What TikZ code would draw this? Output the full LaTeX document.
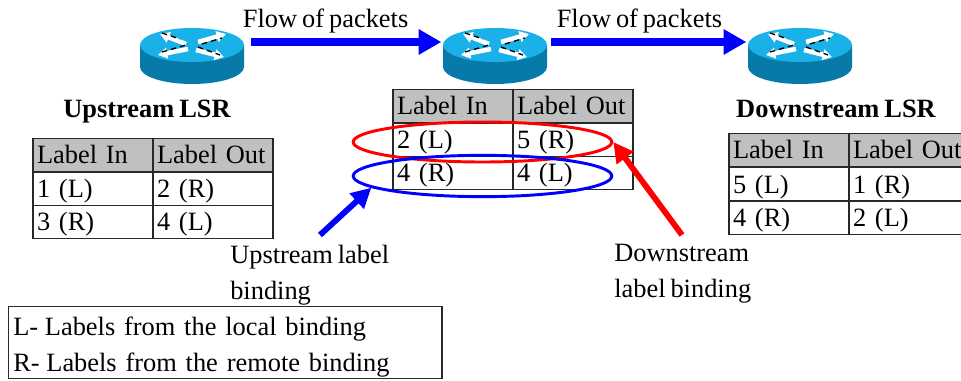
\documentclass[tikz,border=0pt]{standalone}
\usepackage{fontspec}
\setmainfont[WordSpace=0.75]{Liberation Serif}
\usetikzlibrary{arrows.meta,shapes.geometric}
\definecolor{routertop}{RGB}{26,176,232}
\definecolor{routerside}{RGB}{8,122,170}
\definecolor{headgrey}{RGB}{192,192,192}
\definecolor{gridline}{RGB}{40,40,40}
\tikzset{
  routerpic/.pic={
    \fill[routerside] (-52,0) -- (-52,22) arc[start angle=180,end angle=0,x radius=52,y radius=17] -- (52,0) -- cycle;
    \fill[routertop] (0,0) ellipse (52 and 17);
    \draw[white,line width=3.4pt,-{Triangle[length=7pt,width=8pt]}] (-6,-1) -- (-32,-11);
    \draw[white,line width=3.4pt,-{Triangle[length=7pt,width=8pt]}] (6,-3) -- (34,-11);
    \draw[white,line width=3.4pt,-{Triangle[length=7pt,width=8pt]}] (-4,4) -- (-34,10);
    \draw[white,line width=3.4pt,-{Triangle[length=7pt,width=8pt]}] (4,5) -- (32,12);
    \draw[black,line width=1pt,dash pattern=on 4pt off 3pt] (-30,-12) -- (-12,-6) (10,-1) -- (30,-7) (-30,7) -- (-6,0) (6,2) -- (28,10);
  },
  routernode/.style={minimum width=78pt,minimum height=21pt,inner sep=0pt},
  txt/.style={text=black,font=\fontsize{19.8}{27}\selectfont,inner sep=0pt},
  lsrname/.style={txt,anchor=base,font=\fontsize{19.8}{27}\selectfont\bfseries},
  cell/.style={draw=gridline,line width=1pt,minimum width=90pt,minimum height=25pt,inner sep=0pt,inner xsep=3pt,text width=84pt,text height=13pt,text depth=0pt,align=left,font=\fontsize{19.8}{27}\selectfont},
  headcell/.style={cell,fill=headgrey},
  flow/.style={blue,line width=5.6pt,-{Triangle[length=17pt,width=18pt]}},
  pointer/.style={line width=4.4pt,-{Triangle[length=15pt,width=15pt]}},
  oval/.style={draw,ellipse,line width=2.2pt,inner sep=0pt,minimum width=194pt},
}
\begin{document}
\begin{tikzpicture}[x=0.75pt,y=-0.75pt]
  \clip (0,0) rectangle (961,381);
  % routers
  \pic at (192,45) {routerpic};
  \pic at (495,45) {routerpic};
  \pic at (800,45) {routerpic};
  \node[routernode] (upr) at (192,42) {};
  \node[routernode] (midr) at (495,42) {};
  \node[routernode] (downr) at (800,42) {};
  \draw[flow,shorten <=5pt,shorten >=1pt] (upr) -- node[txt,above=4pt,pos=.41] (flowa) {Flow of packets} (midr);
  \draw[flow,shorten <=3pt,shorten >=1pt] (midr) -- node[txt,above=4pt,pos=.46] (flowb) {Flow of packets} (downr);
  \node[lsrname] (upname) at (147,118) {Upstream LSR};
  \node[lsrname] (downname) at (836,118) {Downstream LSR};
  % upstream table
  \node[headcell] (ua) at (93,155) {Label In};
  \node[headcell] (ub) at (213,155) {Label Out};
  \node[cell] (uc) at (93,189) {1 (L)};
  \node[cell] (ud) at (213,189) {2 (R)};
  \node[cell] (ue) at (93,222) {3 (R)};
  \node[cell] (uf) at (213,222) {4 (L)};
  % middle table
  \node[headcell] (ma) at (453,106) {Label In};
  \node[headcell] (mb) at (573,106) {Label Out};
  \node[cell] (mc) at (453,140) {2 (L)};
  \node[cell] (md) at (573,140) {5 (R)};
  \node[cell] (me) at (453,173) {4 (R)};
  \node[cell] (mf) at (573,173) {4 (L)};
  % downstream table
  \node[headcell] (da) at (789,150) {Label In};
  \node[headcell] (db) at (909,150) {Label Out};
  \node[cell] (dc) at (789,184.5) {5 (L)};
  \node[cell] (dd) at (909,184.5) {1 (R)};
  \node[cell] (de) at (789,218) {4 (R)};
  \node[cell] (df) at (909,218) {2 (L)};
  % bindings
  \node[oval,draw=red,minimum height=30pt] (redoval) at (482.5,142) {};
  \node[oval,draw=blue,minimum height=31pt] (blueoval) at (482.5,176) {};
  \coordinate (uptail) at (320,235);
  \coordinate (downtail) at (682,235);
  \draw[pointer,blue] (uptail) -- (blueoval.186);
  \draw[pointer,red] (downtail) -- (redoval.0);
  \node[txt,anchor=north west,align=left] (uplabel) at (230,245) {Upstream label\\binding};
  \node[txt,anchor=north west,align=left] (downlabel) at (614,244) {Downstream\\label binding};
  % legend
  \node[draw=gridline,line width=1pt,anchor=north west,minimum width=325pt,minimum height=54pt,inner sep=0pt,inner xsep=3.5pt,text width=318pt,align=left,font=\fontsize{19.8}{27}\selectfont] (legend) at (8,306) {\rule{0pt}{20.5pt}L-\hspace{5pt}Labels from the local binding\\R-\hspace{5pt}Labels from the remote binding};
\end{tikzpicture}
\end{document}
